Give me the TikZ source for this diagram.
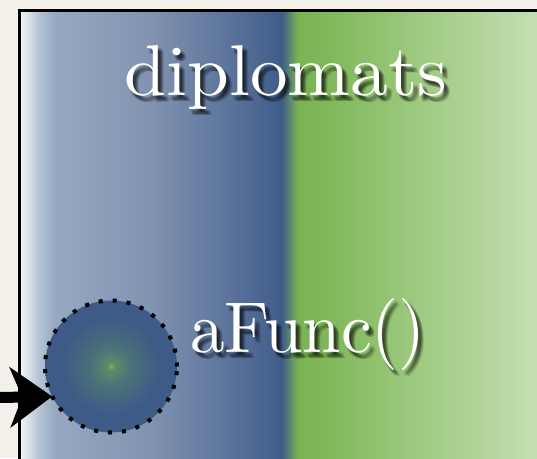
\documentclass[tikz,border=0pt]{standalone}
\usepackage{fontspec}
\newfontfamily\lmbig{lmroman10-regular}[Extension=.otf]
\usetikzlibrary{arrows.meta}
\definecolor{paper}{HTML}{F4F0EA}
\definecolor{ballblue}{HTML}{3E5B88}
\definecolor{ballmid}{HTML}{4A7078}
\definecolor{ballgreen}{HTML}{7CB556}
\definecolor{ballgm}{HTML}{5D8A6A}
\definecolor{pa}{HTML}{F2F4F7}
\definecolor{pb}{HTML}{E0E6EE}
\definecolor{pc}{HTML}{B3C1D2}
\definecolor{pd}{HTML}{96A9C1}
\definecolor{pe}{HTML}{8193B0}
\definecolor{pf}{HTML}{5B739B}
\definecolor{pg}{HTML}{3F5C89}
\definecolor{ph}{HTML}{79B354}
\definecolor{pi}{HTML}{80B85A}
\definecolor{pj}{HTML}{9FCA82}
\definecolor{pk}{HTML}{C4DEB2}
\pgfdeclarehorizontalshading{panelshade}{100bp}{color(0bp)=(pa); color(25bp)=(pa); color(25.6bp)=(pb); color(26.9bp)=(pc); color(28.4bp)=(pd); color(37.5bp)=(pe); color(45.2bp)=(pf); color(50.2bp)=(pg); color(51.7bp)=(ph); color(54.8bp)=(pi); color(63.5bp)=(pj); color(74.7bp)=(pk); color(100bp)=(pk)}
\pgfdeclareradialshading{ballshade}{\pgfpoint{0bp}{0bp}}{color(0bp)=(ballgreen); color(1.5bp)=(ballgm); color(8bp)=(ballmid); color(18bp)=(ballblue); color(50bp)=(ballblue)}
\tikzset{
  bigtext/.style={font=\lmbig\fontsize{72}{86}\selectfont, inner sep=0pt, anchor=base},
  shadowtxt/.style={bigtext, text=black, opacity=0.11},
  whitetxt/.style={bigtext, text=white},
  ball/.style={circle, minimum size=132pt, inner sep=0pt, outer sep=0pt, shading=ballshade, draw=black, line width=4pt, dash pattern=on 4pt off 10pt},
  bigarrow/.style={line width=11pt, -{Stealth[length=42pt 0, width=60pt 0, inset=12pt 0]}}
}
\begin{document}
\begin{tikzpicture}[x=1pt, y=-1pt]
\useasboundingbox (0,0) rectangle (537,458);
\fill[paper] (0,0) rectangle (537,458);
\shade[shading=panelshade] (20,10.5) rectangle (540,461);
\draw[line width=3pt] (19,470) -- (19,10.5) -- (545,10.5);
% diplomats
\foreach \dx/\dy [count=\i] in {2/3, 3/4, 4/5, 3/6, 5/4, 4/3, 2/5, 5/6, 6/6} {
  \node[shadowtxt, name=dsh\i, xscale=1.045] at (286+\dx, 95+\dy) {diplomats};
}
\node[whitetxt, xscale=1.045] (dipl) at (286,95) {diplomats};
% ball
\node[ball] (aball) at (111,366.5) {};
\foreach \dx/\dy [count=\i] in {2/3, 3/4, 4/5, 3/6, 5/4, 4/3, 2/5, 5/6, 6/6} {
  \node[shadowtxt, name=fsh\i, xscale=0.96] at (308+\dx, 352+\dy) {aFunc()};
}
\node[whitetxt, xscale=0.96] (afunc) at (308,352) {aFunc()};
\coordinate (src) at (0,397.5);
\draw[bigarrow] (src) -- (aball.207);
\end{tikzpicture}
\end{document}
